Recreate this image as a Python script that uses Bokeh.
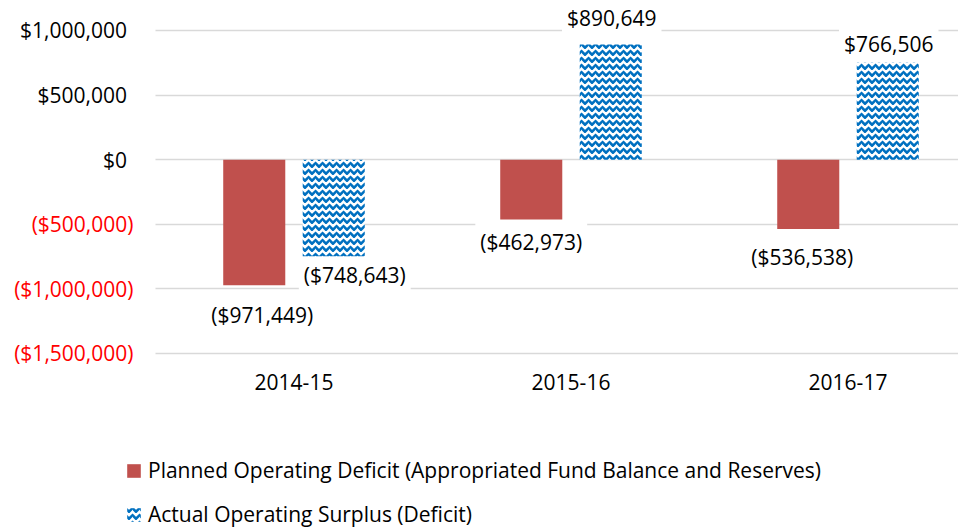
from bokeh.plotting import figure
from bokeh.layouts import column
from bokeh.models import (ColumnDataSource, FixedTicker, Legend, LegendItem,
                          LinearAxis, Range1d)
from bokeh.core.properties import value
from bokeh.embed import file_html
from bokeh.resources import INLINE

# ---- data ----
years = ["2014-15", "2015-16", "2016-17"]
planned = [-971449, -462973, -536538]
actual = [-748643, 890649, 766506]
y_ticks = [-1500000, -1000000, -500000, 0, 500000, 1000000]
series_names = ["Planned Operating Deficit (Appropriated Fund Balance and Reserves)",
                "Actual Operating Surplus (Deficit)"]

# ---- styling ----
FONT = "Open Sans"
FS = "21px"
RED = "#C0504D"
BLUE = "#0070C0"
GRID = "#D9D9D9"
BAR_W = 0.224
OFF = 0.1435
X_START, X_END = -0.6083, 2.3989
# label pixel nudges (x, y) as placed in the original chart
planned_nudge = [(8, 30), (0, 22), (-6, 28)]
actual_nudge = [(21, 19), (1, -27), (1, -17)]
bar_styles = [dict(fill_color=RED, line_color=None),
              dict(fill_color="white", line_color=None,
                   hatch_pattern="horizontal_wave", hatch_color=BLUE,
                   hatch_scale=7, hatch_weight=2.6)]


def money(v):
    s = "${:,.0f}".format(abs(v))
    return "(" + s + ")" if v < 0 else s


idx = list(range(len(years)))
src = ColumnDataSource(dict(
    xp=[i - OFF for i in idx],
    xa=[i + OFF for i in idx],
    planned=planned,
    actual=actual,
    lp=[money(v) for v in planned],
    la=[money(v) for v in actual],
    pdx=[n[0] for n in planned_nudge],
    pdy=[n[1] for n in planned_nudge],
    adx=[n[0] for n in actual_nudge],
    ady=[n[1] for n in actual_nudge],
))

p = figure(width=958, height=411, output_backend="svg", toolbar_location=None,
           x_range=Range1d(X_START, X_END), y_range=Range1d(-1515500, 1232000),
           min_border_left=125, min_border_right=0, min_border_top=0,
           min_border_bottom=56)
p.outline_line_color = None
p.background_fill_color = "white"
p.border_fill_color = "white"

r1 = p.vbar(x="xp", top="planned", bottom=0, width=BAR_W, source=src,
            **bar_styles[0])
r2 = p.vbar(x="xa", top="actual", bottom=0, width=BAR_W, source=src,
            **bar_styles[1])

common = dict(text_font=value(FONT), text_font_size=FS, text_color="black",
              text_align="center", text_baseline="middle",
              background_fill_color="white", padding=5)
p.text(x="xp", y="planned", text="lp", x_offset="pdx", y_offset="pdy",
       source=src, **common)
p.text(x="xa", y="actual", text="la", x_offset="adx", y_offset="ady",
       source=src, **common)

# axes: inner left axis = non-negative ticks (black),
# outer left axis = negative ticks (red), pulled onto the same column
pos_ticks = [v for v in y_ticks if v >= 0]
neg_ticks = [v for v in y_ticks if v < 0]
p.xaxis.ticker = FixedTicker(ticks=idx)
p.xaxis.major_label_overrides = {i: y for i, y in zip(idx, years)}
p.yaxis.ticker = FixedTicker(ticks=pos_ticks)
p.yaxis.major_label_overrides = {v: money(v) + "\u00a0" for v in pos_ticks}
neg_axis = LinearAxis(ticker=FixedTicker(ticks=neg_ticks),
                      major_label_overrides={v: money(v) for v in neg_ticks})
p.add_layout(neg_axis, "left")

for ax in (p.xaxis[0], p.yaxis[0], neg_axis):
    ax.axis_line_color = None
    ax.major_tick_line_color = None
    ax.minor_tick_line_color = None
    ax.major_tick_out = 0
    ax.major_tick_in = 0
    ax.minor_tick_out = 0
    ax.major_label_text_font = FONT
    ax.major_label_text_font_size = FS
    ax.major_label_text_color = "black"
neg_axis.major_label_text_color = "#FF0000"
p.yaxis[0].major_label_standoff = -7
neg_axis.major_label_standoff = -116
p.xaxis[0].major_label_standoff = 18

p.xgrid.grid_line_color = None
p.ygrid.ticker = FixedTicker(ticks=y_ticks)
p.ygrid.grid_line_color = GRID
p.ygrid.grid_line_width = 1.5
p.ygrid.cross_bounds = (-0.5, X_END)

# legend strip below the chart (its renderers sit outside its view)
lf = figure(width=958, height=120, output_backend="svg", toolbar_location=None,
            x_range=Range1d(100, 101), y_range=Range1d(5e6, 5e6 + 1),
            min_border=0, x_axis_type=None, y_axis_type=None)
lf.outline_line_color = None
lf.grid.visible = False
k1 = lf.vbar(x="xp", top="planned", bottom=0, width=BAR_W, source=src,
             **bar_styles[0])
k2 = lf.vbar(x="xa", top="actual", bottom=0, width=BAR_W, source=src,
             **bar_styles[1])
legend = Legend(items=[LegendItem(label=series_names[0], renderers=[k1]),
                       LegendItem(label=series_names[1], renderers=[k2])],
                location=(0, 3), orientation="vertical",
                border_line_color=None, background_fill_alpha=0,
                padding=0, margin=0, spacing=16, glyph_width=17,
                glyph_height=17, label_standoff=6,
                label_text_font=FONT, label_text_font_size=FS,
                label_text_color="black")
lf.add_layout(legend)

layout = column(p, lf, spacing=0)
open("out.html", "w").write(file_html(layout, INLINE))
